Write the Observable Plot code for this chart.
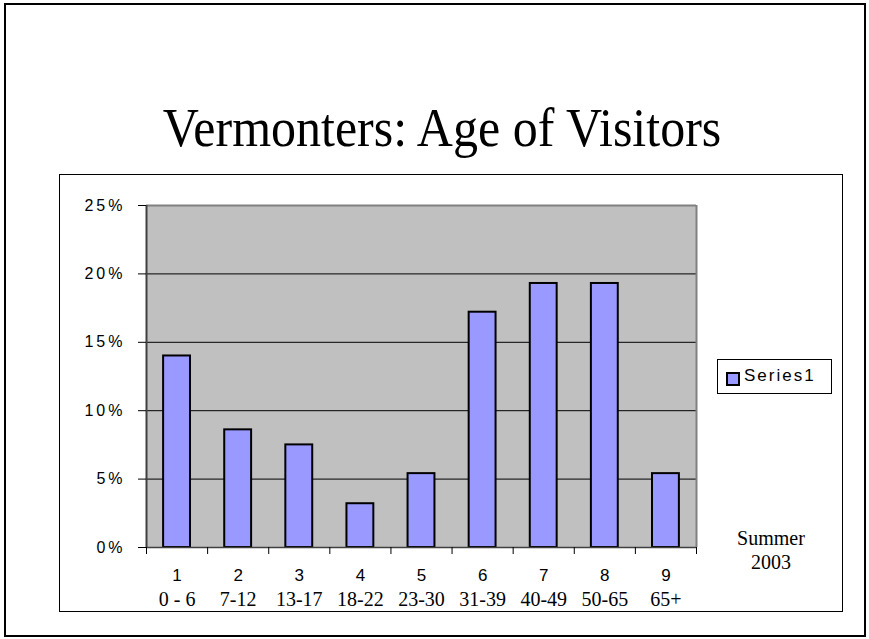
<!DOCTYPE html>
<html>
<head>
<meta charset="utf-8">
<script src="https://cdn.jsdelivr.net/npm/d3@7"></script>
<script src="https://cdn.jsdelivr.net/npm/@observablehq/plot@0.6"></script>
<style>
  html, body { margin: 0; padding: 0; background: #fff; }
  #page { position: relative; width: 869px; height: 639px; overflow: hidden; background: #fff; }
  #outer { position: absolute; left: 4px; top: 3px; width: 858px; height: 630px; border: 2px solid #000; box-sizing: content-box; }
  #inner { position: absolute; left: 59px; top: 174px; width: 782px; height: 436px; border: 1px solid #000; }
  #title { position: absolute; left: 0; width: 884px; top: 101px; margin: 0; text-align: center;
           font-family: "Liberation Serif", "Times New Roman", serif; font-weight: normal; font-size: 50px; line-height: 56px; color: #000;
           transform: scaleY(1.08); transform-origin: 50% 80%; }
  #chart { position: absolute; left: 0; top: 0; }
  #legend { position: absolute; left: 717px; top: 359px; width: 113px; height: 33px; border: 1px solid #000; background: #fff; }
  #legend .sw { position: absolute; left: 8px; top: 12px; width: 10px; height: 10px; border: 2px solid #000; background: #9999ff; }
  #legend .lab { position: absolute; left: 26px; top: 6px; font-family: "Liberation Sans", Arial, sans-serif; font-size: 17px; letter-spacing: 2px; color: #000; }
  #note { position: absolute; left: 721px; width: 100px; top: 526px; text-align: center;
          font-family: "Liberation Serif", "Times New Roman", serif; font-size: 20px; line-height: 24px; color: #000; }
  g[aria-label="y-axis tick label"] text { letter-spacing: 3px; font-size: 16px; }
</style>
</head>
<body>
<div id="page">
  <div id="outer"></div>
  <div id="inner"></div>
  <h1 id="title">Vermonters: Age of Visitors</h1>
  <div id="chart"></div>
  <div id="legend"><div class="sw"></div><div class="lab" id="legendLabel"></div></div>
  <div id="note">Summer<br>2003</div>
</div>
<script>
// ---- data ----
const categories = ["1", "2", "3", "4", "5", "6", "7", "8", "9"];
const ageRanges = ["0 - 6", "7-12", "13-17", "18-22", "23-30", "31-39", "40-49", "50-65", "65+"];
const shares = [0.140, 0.086, 0.075, 0.032, 0.054, 0.172, 0.193, 0.193, 0.054];
const yTicks = [0, 0.05, 0.10, 0.15, 0.20, 0.25];
const seriesName = "Series1";

document.getElementById("legendLabel").textContent = seriesName;

const data = categories.map((c, i) => ({pos: i + 1, cat: c, range: ageRanges[i], share: shares[i]}));
const boundaries = categories.map((c, i) => i + 0.5).concat([categories.length + 0.5]);
const halfBar = 0.22;

const chart = Plot.plot({
  width: 869,
  height: 639,
  marginLeft: 146,
  marginRight: 173,
  marginTop: 205,
  marginBottom: 92,
  style: {background: "transparent", fontFamily: "Liberation Sans, Arial, sans-serif", fontSize: "16px", color: "#000"},
  x: {domain: [0.5, categories.length + 0.5], axis: null, label: null},
  y: {domain: [0, 0.25], axis: null, label: null},
  marks: [
    Plot.frame({fill: "#c0c0c0", stroke: null}),
    Plot.ruleY(yTicks.filter(t => t > 0 && t < 0.25), {stroke: "#000", strokeWidth: 1}),
    Plot.ruleY([0.25], {stroke: "#808080", strokeWidth: 2}),
    Plot.ruleX([categories.length + 0.5], {stroke: "#808080", strokeWidth: 2}),
    Plot.rectY(data, {x1: d => d.pos - halfBar, x2: d => d.pos + halfBar, y: "share", fill: "#9999ff", stroke: "#000", strokeWidth: 2}),
    Plot.ruleX([0.5], {stroke: "#404040", strokeWidth: 2}),
    Plot.ruleY([0], {stroke: "#404040", strokeWidth: 1.5}),
    Plot.axisY({ticks: yTicks, tickFormat: d => Math.round(d * 100) + "%", tickSize: 8, tickPadding: 13, fontSize: 16, stroke: "#000", fill: "#000", label: null}),
    Plot.axisX({ticks: boundaries, tickFormat: () => "", tickSize: 7, stroke: "#000", label: null}),
    Plot.text(data, {x: "pos", text: "cat", frameAnchor: "bottom", dy: 33, fontSize: 17, fontFamily: "Liberation Sans, Arial, sans-serif", fill: "#000"}),
    Plot.text(data, {x: "pos", text: "range", frameAnchor: "bottom", dy: 58, fontSize: 20, fontFamily: "Liberation Serif, Times New Roman, serif", fill: "#000"})
  ]
});
document.getElementById("chart").appendChild(chart);
</script>
</body>
</html>
